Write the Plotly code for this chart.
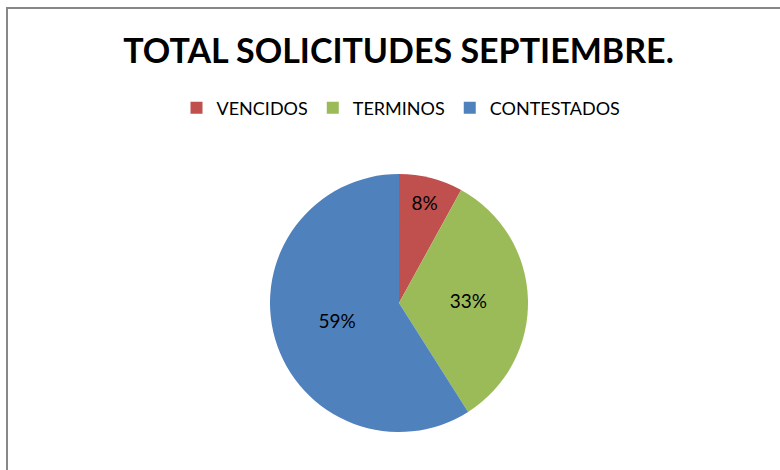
import plotly.graph_objects as go

labels = ["VENCIDOS", "TERMINOS", "CONTESTADOS"]
values = [8, 33, 59]
colors = ["#C0504D", "#9BBB59", "#4F81BD"]
title_text = "TOTAL SOLICITUDES SEPTIEMBRE."

W, H = 780, 470
FONT = "Lato, Carlito, Calibri, sans-serif"

fig = go.Figure(go.Pie(
    labels=labels,
    values=values,
    sort=False,
    direction="clockwise",
    rotation=0,
    marker=dict(colors=colors, line=dict(width=0)),
    textinfo="percent",
    texttemplate="%{percent:.0%}",
    textposition="inside",
    insidetextorientation="horizontal",
    textfont=dict(family=FONT, size=19, color="#000000"),
    domain=dict(x=[270 / W, 528 / W], y=[(H - 432) / H, (H - 174) / H]),
    hoverinfo="label+percent",
))

fig.update_layout(
    width=W, height=H,
    margin=dict(l=0, r=0, t=0, b=0),
    paper_bgcolor="white",
    plot_bgcolor="white",
    title=dict(
        text="<b>" + title_text + "</b>",
        x=398.5 / W, xanchor="center",
        y=1 - 51 / H, yanchor="middle",
        font=dict(family=FONT, size=34, color="#000000"),
    ),
    legend=dict(
        orientation="h",
        x=401 / W, xanchor="center",
        y=1 - 108 / H, yanchor="middle",
        font=dict(family=FONT, size=18, color="#000000"),
        itemwidth=30,
        traceorder="normal",
    ),
    shapes=[
        dict(type="rect", xref="paper", yref="paper",
             x0=7 / W, x1=1.05, y0=-0.05, y1=1 - 8 / H,
             line=dict(color="#888888", width=2), fillcolor="rgba(0,0,0,0)", layer="below"),
    ],
)

fig.write_html("out.html", config={"displayModeBar": False},
               post_script="document.body.style.margin='0';")
